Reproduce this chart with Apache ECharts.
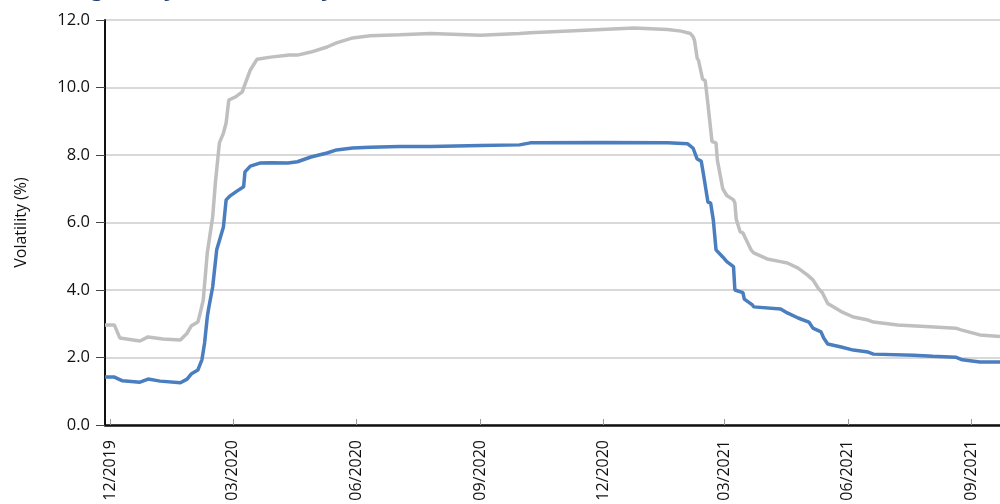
<!DOCTYPE html>
<html><head><meta charset="utf-8">
<script src="https://cdn.jsdelivr.net/npm/echarts@6/dist/echarts.min.js"></script>
<style>html,body{margin:0;padding:0;background:#fff}#c{width:1000px;height:504px}</style>
</head><body><div id="c"></div>
<script>
const titleText = 'Rolling one-year volatility';
const yAxisName = 'Volatility (%)';
const yTicks = [0, 2, 4, 6, 8, 10, 12];
const xTickDates = ['2019-12-01','2020-03-01','2020-06-01','2020-09-01','2020-12-01','2021-03-01','2021-06-01','2021-09-01'];
const xMin = '2019-11-27';
const xMax = '2021-09-22';

const greyDates = ['2019-11-27','2019-12-04','2019-12-08','2019-12-23','2019-12-29','2020-01-09','2020-01-22','2020-01-27','2020-01-30','2020-02-04','2020-02-05','2020-02-08','2020-02-11','2020-02-15','2020-02-17','2020-02-20','2020-02-23','2020-02-25','2020-02-27','2020-03-03','2020-03-08','2020-03-09','2020-03-14','2020-03-19','2020-03-29','2020-04-12','2020-04-18','2020-04-28','2020-05-10','2020-05-17','2020-05-29','2020-06-11','2020-07-03','2020-07-26','2020-09-01','2020-09-30','2020-10-08','2020-11-30','2020-12-24','2021-01-18','2021-01-28','2021-02-04','2021-02-06','2021-02-07','2021-02-09','2021-02-10','2021-02-13','2021-02-15','2021-02-17','2021-02-20','2021-02-23','2021-02-24','2021-02-28','2021-03-03','2021-03-08','2021-03-09','2021-03-10','2021-03-13','2021-03-15','2021-03-21','2021-03-23','2021-04-02','2021-04-12','2021-04-17','2021-04-25','2021-05-02','2021-05-06','2021-05-10','2021-05-13','2021-05-17','2021-05-27','2021-06-05','2021-06-16','2021-06-20','2021-07-08','2021-08-01','2021-08-20','2021-08-24','2021-09-07','2021-09-22'];
const greyValues = [2.96,2.96,2.58,2.49,2.61,2.55,2.52,2.72,2.93,3.05,3.2,3.7,5.1,6.16,7.17,8.36,8.65,8.95,9.63,9.72,9.87,9.99,10.52,10.84,10.9,10.96,10.96,11.05,11.2,11.32,11.47,11.53,11.56,11.6,11.55,11.6,11.62,11.72,11.76,11.72,11.67,11.6,11.5,11.4,10.87,10.8,10.25,10.2,9.5,8.4,8.36,7.85,7.0,6.8,6.67,6.58,6.1,5.72,5.69,5.19,5.1,4.92,4.84,4.8,4.65,4.44,4.3,4.05,3.92,3.6,3.36,3.2,3.11,3.05,2.96,2.91,2.87,2.82,2.67,2.62,2.62];

const blueDates = ['2019-11-27','2019-12-04','2019-12-10','2019-12-23','2019-12-29','2020-01-07','2020-01-22','2020-01-27','2020-01-30','2020-02-04','2020-02-07','2020-02-09','2020-02-11','2020-02-12','2020-02-15','2020-02-18','2020-02-23','2020-02-25','2020-02-28','2020-03-04','2020-03-09','2020-03-10','2020-03-14','2020-03-21','2020-03-29','2020-04-11','2020-04-18','2020-04-28','2020-05-10','2020-05-17','2020-05-29','2020-06-11','2020-07-03','2020-07-26','2020-09-01','2020-09-30','2020-10-08','2020-11-30','2021-01-18','2021-02-02','2021-02-06','2021-02-09','2021-02-12','2021-02-14','2021-02-17','2021-02-19','2021-02-21','2021-02-23','2021-02-28','2021-03-03','2021-03-08','2021-03-09','2021-03-15','2021-03-16','2021-03-22','2021-03-23','2021-04-12','2021-04-17','2021-04-25','2021-05-03','2021-05-06','2021-05-12','2021-05-14','2021-05-17','2021-05-27','2021-06-05','2021-06-16','2021-06-20','2021-07-20','2021-08-03','2021-08-20','2021-08-25','2021-09-07','2021-09-22'];
const blueValues = [1.42,1.42,1.31,1.27,1.36,1.30,1.25,1.36,1.51,1.63,1.93,2.43,3.2,3.45,4.09,5.19,5.87,6.67,6.79,6.93,7.06,7.5,7.67,7.76,7.77,7.76,7.8,7.94,8.06,8.15,8.21,8.23,8.25,8.25,8.28,8.3,8.36,8.37,8.36,8.33,8.2,7.88,7.82,7.35,6.6,6.58,6.07,5.19,4.98,4.84,4.69,4.0,3.92,3.73,3.56,3.5,3.44,3.32,3.17,3.05,2.87,2.76,2.58,2.4,2.31,2.22,2.16,2.1,2.07,2.04,2.01,1.93,1.87,1.87];

function ts(s){ const p = s.split('-').map(Number); return Date.UTC(p[0], p[1]-1, p[2]); }
function pair(ds, vs){ return ds.map((d,i)=>[ts(d), vs[i]]); }

const chart = echarts.init(document.getElementById('c'));
const font = '"Open Sans", "Liberation Sans", sans-serif';
const tickVals = xTickDates.map(ts);
chart.setOption({
  animation: false,
  backgroundColor: '#fff',
  textStyle: { fontFamily: font },
  graphic: [{
    type: 'text', x: 22, y: -12,
    style: { text: titleText, font: 'italic bold 26px "Open Sans", sans-serif', fill: '#1f3d6e', verticalAlign: 'middle' }
  }],
  grid: { left: 105, right: 0, top: 20, bottom: 79, containLabel: false },
  xAxis: {
    type: 'value', min: ts(xMin), max: ts(xMax),
    axisLine: { show: true, lineStyle: { color: '#111', width: 2.5 } },
    axisTick: { show: true, inside: true, length: 6, lineStyle: { color: '#999', width: 1 }, customValues: tickVals },
    axisLabel: {
      customValues: tickVals, rotate: 90, margin: 15, fontSize: 16, color: '#111', fontFamily: font,
      formatter: function(v){ const d = new Date(v); const m = d.getUTCMonth()+1; return (m<10?'0':'')+m+'/'+d.getUTCFullYear(); }
    },
    splitLine: { show: false }
  },
  yAxis: {
    type: 'value', min: yTicks[0], max: yTicks[yTicks.length-1], interval: 2,
    name: yAxisName, nameLocation: 'middle', nameGap: 76, nameRotate: 90,
    nameTextStyle: { fontSize: 16, color: '#111', fontFamily: font },
    axisLine: { show: true, lineStyle: { color: '#111', width: 2 } },
    axisTick: { show: true, inside: false, length: 9, lineStyle: { color: '#444', width: 1 } },
    axisLabel: { fontSize: 16.5, color: '#111', margin: 15, formatter: v => v.toFixed(1), fontFamily: font },
    splitLine: { show: true, lineStyle: { color: '#d9d9d9', width: 2 } }
  },
  series: [
    { type: 'line', name: 'grey', data: pair(greyDates, greyValues), showSymbol: false, lineStyle: { color: '#bfbfbf', width: 3.5 }, itemStyle: { color: '#bfbfbf' } },
    { type: 'line', name: 'blue', data: pair(blueDates, blueValues), showSymbol: false, lineStyle: { color: '#4a7ebf', width: 3.5 }, itemStyle: { color: '#4a7ebf' } }
  ]
});
</script></body></html>
